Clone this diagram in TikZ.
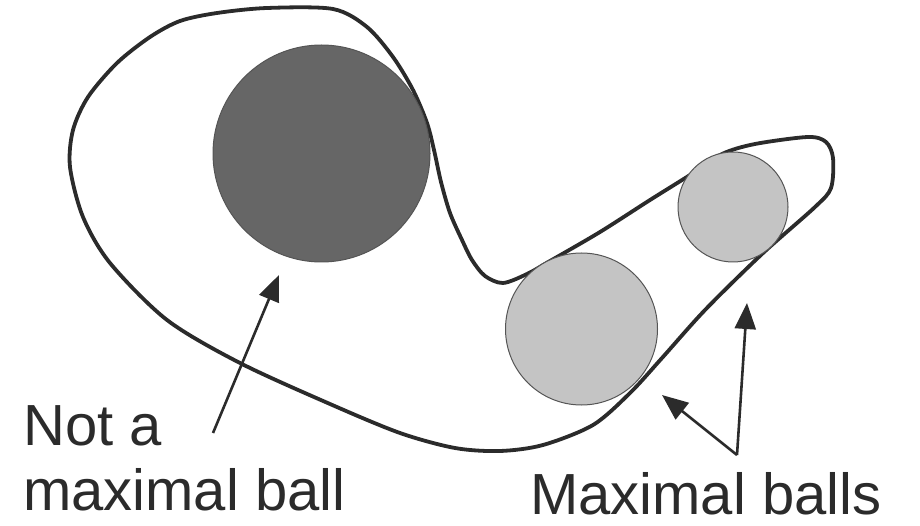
\documentclass[tikz,border=0pt]{standalone}
\usepackage{fontspec}
\setmainfont{Liberation Sans}
\usetikzlibrary{arrows.meta}
\definecolor{ink}{HTML}{2B2B2B}
\definecolor{darkball}{HTML}{666666}
\definecolor{lightball}{HTML}{C4C4C4}
\tikzset{
  outline/.style={draw=ink, line width=3.8pt, line join=round},
  ball/.style={circle, draw=ink!80, line width=1pt, inner sep=0pt},
  pointer/.style={draw=ink, line width=2.6pt, -{Triangle[length=26pt,width=21pt]}},
  label/.style={text=ink, font=\fontsize{58}{65}\selectfont, inner sep=0pt, align=left},
}
\begin{document}
\begin{tikzpicture}[x=1pt,y=-1pt]
\useasboundingbox (0,0) rectangle (920,526);
% outline shape
\draw[outline] plot[smooth cycle, tension=0.5] coordinates {
 (267,8) (333,9) (367,27) (393,57) (413,90) (427,123) (434,150) (441,182) (450,213) (462,240)
 (472,260) (485,276) (503,283) (527,274) (550,261) (600,232) (650,200) (690,175)
 (722,154) (755,144) (808,137) (826,142) (833,158) (831,188) (815,207) (762,254)
 (705,310) (662,358) (630,393) (593,425) (543,445) (500,451) (455,448) (400,433)
 (330,404) (240,363) (167,320) (110,263) (83,217) (70,167) (73,130) (88,97) (117,63)
 (150,37) (180,21) (217,13)};
% balls
\node[ball, fill=darkball, minimum size=217pt] (notmax) at (321.5,153.5) {};
\node[ball, fill=lightball, minimum size=152pt] (bigmax) at (581.5,329) {};
\node[ball, fill=lightball, minimum size=110pt] (smallmax) at (733,207) {};
% labels
\node[label, anchor=base west] (lbl1) at (23,510) {Not a\\maximal ball};
\node[label, anchor=base west] (lbl2) at (530,514) {Maximal balls};
% arrows
\coordinate (a1s) at (213,433);
\coordinate (a1e) at (279,275);
\coordinate (v) at (737,455);
\coordinate (a2e) at (662,395);
\coordinate (a3e) at (747,303);
\draw[pointer] (a1s) -- (a1e);
\draw[pointer] (v) -- (a2e);
\draw[pointer] (v) -- (a3e);
\end{tikzpicture}
\end{document}
